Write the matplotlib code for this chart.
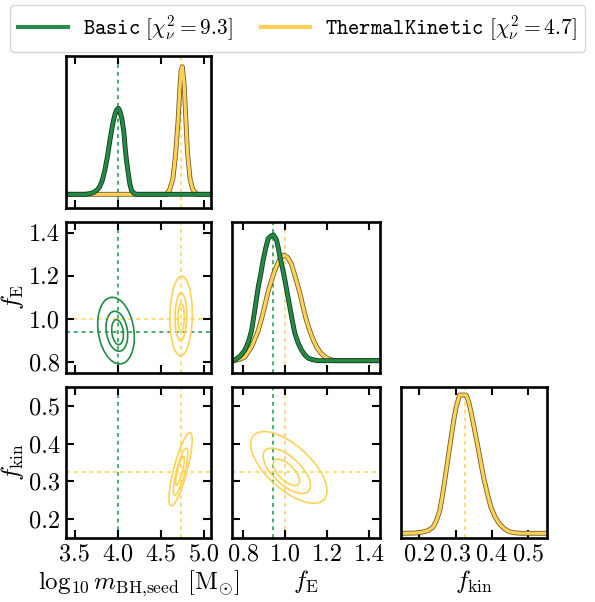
import numpy as np
import matplotlib.pyplot as plt
from matplotlib.patches import Ellipse
from matplotlib.lines import Line2D
import matplotlib.patheffects as pe

plt.rcParams.update({
    "font.family": "serif",
    "font.serif": ["cmr10"],
    "mathtext.fontset": "cm",
    "axes.formatter.use_mathtext": True,
    "axes.unicode_minus": False,
})

# axis ranges and ticks
m_lim = (3.394, 5.088)
fe_lim = (0.748, 1.450)
fk_lim = (0.15, 0.55)
m_ticks = [3.5, 4.0, 4.5, 5.0]
fe_ticks = [0.8, 1.0, 1.2, 1.4]
fk_ticks = [0.2, 0.3, 0.4, 0.5]
m_ticklabels = ["3.5", "4.0", "4.5", "5.0"]
fe_ticklabels = ["0.8", "1.0", "1.2", "1.4"]
fk_ticklabels = ["0.2", "0.3", "0.4", "0.5"]

# true values
basic_m_true, basic_fe_true = 4.0, 0.94
thermal_m_true, thermal_fe_true, thermal_fk_true = 4.74, 1.0, 0.325

# 1D marginals (relative heights)
basic_m_x = [3.394, 3.62, 3.68, 3.72, 3.76, 3.79, 3.82, 3.85, 3.88, 3.91, 3.93, 3.95,
             3.97, 3.99, 4.006, 4.02, 4.045, 4.07, 4.085, 4.10, 4.12, 4.14, 4.16, 4.19,
             4.22, 5.088]
basic_m_y = [0, 0, 0.006, 0.015, 0.035, 0.06, 0.11, 0.19, 0.30, 0.43, 0.51, 0.58,
             0.635, 0.665, 0.674, 0.66, 0.60, 0.49, 0.37, 0.27, 0.17, 0.08, 0.03, 0.006,
             0, 0]
thermal_m_x = [3.394, 4.56, 4.60, 4.64, 4.67, 4.70, 4.72, 4.735, 4.75, 4.77, 4.79,
               4.81, 4.84, 4.87, 4.91, 4.93, 5.088]
thermal_m_y = [0, 0, 0.03, 0.12, 0.30, 0.57, 0.82, 0.97, 1.0, 0.87, 0.60,
               0.33, 0.12, 0.04, 0.005, 0, 0]

basic_fe_x = [0.748, 0.760, 0.785, 0.808, 0.825, 0.84, 0.856, 0.872, 0.885, 0.895,
              0.908, 0.919, 0.931, 0.943, 0.951, 0.959, 0.967, 0.975, 0.987, 0.999,
              1.011, 1.022, 1.034, 1.046, 1.062, 1.078, 1.094, 1.11, 1.13, 1.157, 1.45]
basic_fe_y = [0, 0.005, 0.035, 0.085, 0.15, 0.24, 0.41, 0.59, 0.70, 0.80,
              0.90, 0.97, 0.99, 1.0, 0.985, 0.96, 0.90, 0.83, 0.74, 0.64,
              0.53, 0.43, 0.32, 0.22, 0.14, 0.085, 0.045, 0.02, 0.008, 0, 0]
thermal_fe_x = [0.748, 0.760, 0.785, 0.808, 0.84, 0.872, 0.895, 0.919, 0.935, 0.951,
                0.975, 0.995, 1.012, 1.03, 1.053, 1.07, 1.085, 1.10, 1.117, 1.133,
                1.15, 1.17, 1.19, 1.21, 1.237, 1.45]
thermal_fe_y = [0, 0.002, 0.012, 0.03, 0.11, 0.24, 0.38, 0.55, 0.64, 0.72,
                0.81, 0.84, 0.82, 0.77, 0.64, 0.54, 0.43, 0.33, 0.24, 0.17,
                0.11, 0.06, 0.03, 0.012, 0, 0]

thermal_fk_x = [0.15, 0.19, 0.211, 0.225, 0.238, 0.247, 0.256, 0.263, 0.27, 0.279,
                0.288, 0.295, 0.302, 0.311, 0.329, 0.336, 0.343, 0.352, 0.361, 0.37,
                0.379, 0.388, 0.397, 0.408, 0.42, 0.433, 0.447, 0.465, 0.483, 0.55]
thermal_fk_y = [0, 0.002, 0.01, 0.02, 0.045, 0.09, 0.16, 0.26, 0.38, 0.54,
                0.70, 0.82, 0.92, 1.0, 1.0, 0.95, 0.87, 0.75, 0.63, 0.50,
                0.38, 0.28, 0.19, 0.12, 0.07, 0.035, 0.012, 0.003, 0, 0]

# 2D credible contours: centre, half-extent in x and y, correlation (inner -> outer)
basic_mfe_cx = [3.997, 3.989, 3.979]
basic_mfe_cy = [0.938, 0.942, 0.945]
basic_mfe_ex = [0.068, 0.126, 0.213]
basic_mfe_ey = [0.058, 0.093, 0.155]
basic_mfe_rho = [-0.2, -0.2, -0.2]

thermal_mfe_cx = [4.736, 4.733, 4.736]
thermal_mfe_cy = [1.006, 1.010, 1.013]
thermal_mfe_ex = [0.0365, 0.068, 0.13]
thermal_mfe_ey = [0.064, 0.111, 0.185]
thermal_mfe_rho = [0.05, 0.05, 0.05]

thermal_mfk_cx = [4.723, 4.73, 4.73]
thermal_mfk_cy = [0.328, 0.326, 0.332]
thermal_mfk_ex = [0.05, 0.084, 0.135]
thermal_mfk_ey = [0.038, 0.062, 0.097]
thermal_mfk_rho = [0.8, 0.8, 0.8]

thermal_fefk_cx = [1.006, 1.008, 1.018]
thermal_fefk_cy = [0.324, 0.328, 0.337]
thermal_fefk_ex = [0.063, 0.113, 0.182]
thermal_fefk_ey = [0.035, 0.06, 0.095]
thermal_fefk_rho = [-0.65, -0.65, -0.65]

labels = [r"$\mathtt{Basic}\ [\chi^2_\nu = 9.3]$",
          r"$\mathtt{ThermalKinetic}\ [\chi^2_\nu = 4.7]$"]

green = "#238b45"
green_dark = "#10391d"
yellow = "#ffd255"
yellow_dark = "#6e5c2c"
green_truth = "#3aa35e"
yellow_truth = "#ffd866"

W, H = 595, 602
fig = plt.figure(figsize=(W / 100, H / 100), dpi=100)

col_px = [(65.7, 211.4), (232.3, 379.5), (401.1, 546.5)]
row_px = [(56, 207.7), (222, 373), (387, 538)]


def make_ax(r, c):
    x0, x1 = col_px[c]
    y0, y1 = row_px[r]
    ax = fig.add_axes([x0 / W, 1 - y1 / H, (x1 - x0) / W, (y1 - y0) / H])
    for s in ax.spines.values():
        s.set_linewidth(1.9)
    ax.tick_params(direction="in", length=5.5, width=1.5, labelsize=17.5,
                   top=True, right=True, pad=4)
    return ax


lims = [m_lim, fe_lim, fk_lim]
ticks = [m_ticks, fe_ticks, fk_ticks]
ticklabels = [m_ticklabels, fe_ticklabels, fk_ticklabels]
axlabels = [r"$\log_{10} m_{\rm BH{,}seed}\ [\mathrm{M}_{\odot}]$", r"$f_{\rm E}$",
            r"$f_{\rm kin}$"]

axes = {}
for r in range(3):
    for c in range(r + 1):
        ax = make_ax(r, c)
        axes[(r, c)] = ax
        ax.set_xlim(lims[c])
        ax.set_xticks(ticks[c])
        if r == 2:
            ax.set_xticklabels(ticklabels[c])
            ax.set_xlabel(axlabels[c], fontsize=18, labelpad=2)
        else:
            ax.set_xticklabels([])
        if r == c:
            ax.set_yticks([])
            ax.tick_params(right=False, left=False)
        else:
            ax.set_ylim(lims[r])
            ax.set_yticks(ticks[r])
            if c == 0:
                ax.set_yticklabels(ticklabels[r])
                ax.set_ylabel(axlabels[r], fontsize=18, labelpad=2)
            else:
                ax.set_yticklabels([])


def hist1d(ax, x, y, col, dark):
    ax.plot(x, y, color=col, lw=2.3, solid_joinstyle="round",
            path_effects=[pe.Stroke(linewidth=3.5, foreground=dark), pe.Normal()])


def truth(ax, val, col, vertical=True):
    kw = dict(color=col, lw=1.4, ls=(0, (2.0, 2.0)), alpha=0.9, zorder=1)
    if vertical:
        ax.axvline(val, **kw)
    else:
        ax.axhline(val, **kw)


def contours(ax, cx, cy, ex, ey, rho, col):
    for i in range(len(cx)):
        cov = np.array([[ex[i] ** 2, rho[i] * ex[i] * ey[i]],
                        [rho[i] * ex[i] * ey[i], ey[i] ** 2]])
        vals, vecs = np.linalg.eigh(cov)
        ang = np.degrees(np.arctan2(vecs[1, 1], vecs[0, 1]))
        e = Ellipse((cx[i], cy[i]), 2 * np.sqrt(vals[1]), 2 * np.sqrt(vals[0]),
                    angle=ang, fill=False, edgecolor=col, lw=1.2, zorder=3)
        ax.add_patch(e)


# diagonal panels
ax = axes[(0, 0)]
truth(ax, basic_m_true, green_truth)
truth(ax, thermal_m_true, yellow_truth)
hist1d(ax, thermal_m_x, thermal_m_y, yellow, yellow_dark)
hist1d(ax, basic_m_x, basic_m_y, green, green_dark)
ax.set_ylim(-0.105, 1.084)

ax = axes[(1, 1)]
truth(ax, basic_fe_true, green_truth)
truth(ax, thermal_fe_true, yellow_truth)
hist1d(ax, thermal_fe_x, thermal_fe_y, yellow, yellow_dark)
hist1d(ax, basic_fe_x, basic_fe_y, green, green_dark)
ax.set_ylim(-0.098, 1.103)

ax = axes[(2, 2)]
truth(ax, thermal_fk_true, yellow_truth)
hist1d(ax, thermal_fk_x, thermal_fk_y, yellow, yellow_dark)
ax.set_ylim(-0.034, 1.058)

# off-diagonal panels
ax = axes[(1, 0)]
truth(ax, basic_m_true, green_truth)
truth(ax, thermal_m_true, yellow_truth)
truth(ax, basic_fe_true, green_truth, vertical=False)
truth(ax, thermal_fe_true, yellow_truth, vertical=False)
contours(ax, basic_mfe_cx, basic_mfe_cy, basic_mfe_ex, basic_mfe_ey, basic_mfe_rho, green)
contours(ax, thermal_mfe_cx, thermal_mfe_cy, thermal_mfe_ex, thermal_mfe_ey,
         thermal_mfe_rho, yellow)

ax = axes[(2, 0)]
truth(ax, basic_m_true, green_truth)
truth(ax, thermal_m_true, yellow_truth)
truth(ax, thermal_fk_true, yellow_truth, vertical=False)
contours(ax, thermal_mfk_cx, thermal_mfk_cy, thermal_mfk_ex, thermal_mfk_ey,
         thermal_mfk_rho, yellow)

ax = axes[(2, 1)]
truth(ax, basic_fe_true, green_truth)
truth(ax, thermal_fe_true, yellow_truth)
truth(ax, thermal_fk_true, yellow_truth, vertical=False)
contours(ax, thermal_fefk_cx, thermal_fefk_cy, thermal_fefk_ex, thermal_fefk_ey,
         thermal_fefk_rho, yellow)

handles = [Line2D([], [], color="#2e8b50", lw=3.0),
           Line2D([], [], color=yellow, lw=3.0)]
fig.legend(handles, labels, loc="upper center", bbox_to_anchor=(0.5, 0.995),
           ncol=2, fontsize=15.5, frameon=True, fancybox=True, handlelength=2.3,
           columnspacing=1.3, handletextpad=0.7, borderpad=0.4, borderaxespad=0.1,
           edgecolor="#cccccc")

fig.savefig("out.png", dpi=100)
